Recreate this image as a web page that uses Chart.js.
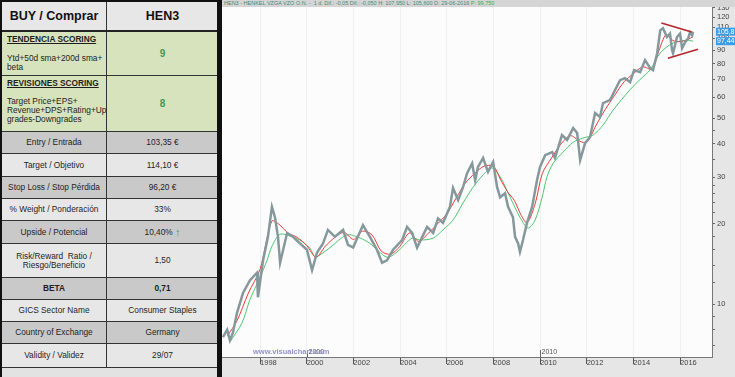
<!DOCTYPE html>
<html>
<head>
<meta charset="utf-8">
<script src="https://cdn.jsdelivr.net/npm/chart.js@4.4.1/dist/chart.umd.min.js"></script>
<style>
html, body { margin: 0; padding: 0; width: 735px; height: 377px; overflow: hidden; background: #e2e2e2;
  font-family: "Liberation Sans", Arial, sans-serif; }
#table { position: absolute; left: 0; top: 0; width: 218px; height: 377px; background: #e2e2e2;
  border-left: 2px solid #111; border-top: 2px solid #111; box-sizing: border-box; }
.row { position: absolute; left: 0; width: 216px; display: flex; box-sizing: border-box; border-bottom: 1px solid #333; }
.c1, .c2 { box-sizing: border-box; height: 100%; display: flex; align-items: center; justify-content: center;
  text-align: center; font-size: 8.3px; line-height: 9px; color: #1e1e1e; }
.c1 { width: 105px; border-right: 1px solid #333; }
.c2 { width: 111px; }
.dark { background: #c9c9c9; }
.light { background: #e7e7e7; }
.green { background: #d7e3bc; }
.txt { display: block; text-align: left; padding: 2px 0 0 5px; }
.ttl { font-weight: bold; text-decoration: underline; line-height: 10px; }
.score { color: #3c9a5c; font-weight: bold; font-size: 10px; }
.head { font-weight: bold; font-size: 12.5px; color: #111; }
#sep { position: absolute; left: 217px; top: 0; width: 5px; height: 377px; background: #111; }
#chartBox { position: absolute; left: 222px; top: 0; width: 513px; height: 377px; }
#hdr { position: absolute; left: 222px; top: 0; width: 513px; height: 7px; background: #d5d5d5;
  font-size: 5.5px; line-height: 7px; color: #3d8a78; white-space: nowrap; padding-left: 2px; box-sizing: border-box; }
#hdr b { font-weight: normal; color: #33b04a; }
#wm { position: absolute; left: 253px; top: 347px; font-size: 7.5px; font-weight: bold; color: #9393c9; }
</style>
</head>
<body>
<div id="table">
  <div class="row light" style="top:0;height:30px;border-bottom:2px solid #222">
    <div class="c1 head">BUY / Comprar</div><div class="c2 head">HEN3</div>
  </div>
  <div class="row green" style="top:30px;height:44px">
    <div class="c1 txt"><div class="ttl">TENDENCIA SCORING</div><div style="margin-top:9.5px">Ytd+50d sma+200d sma+<br>beta</div></div>
    <div class="c2 score">9</div>
  </div>
  <div class="row green" style="top:74px;height:56px">
    <div class="c1 txt"><div class="ttl">REVISIONES SCORING</div><div style="margin-top:8.5px">Target Price+EPS+<br>Revenue+DPS+Rating+Up<br>grades-Downgrades</div></div>
    <div class="c2 score">8</div>
  </div>
  <div class="row dark" style="top:130px;height:22px"><div class="c1">Entry / Entrada</div><div class="c2">103,35 €</div></div>
  <div class="row light" style="top:152px;height:23px"><div class="c1">Target / Objetivo</div><div class="c2">114,10 €</div></div>
  <div class="row dark" style="top:175px;height:22px"><div class="c1">Stop Loss / Stop Pérdida</div><div class="c2">96,20 €</div></div>
  <div class="row light" style="top:197px;height:22px"><div class="c1">% Weight / Ponderación</div><div class="c2">33%</div></div>
  <div class="row dark" style="top:219px;height:23px"><div class="c1">Upside / Potencial</div><div class="c2">10,40%&nbsp;<span style="color:#3f9c7c;font-size:11px">↑</span></div></div>
  <div class="row light" style="top:242px;height:34px"><div class="c1">Risk/Reward &nbsp;Ratio /<br>Riesgo/Beneficio</div><div class="c2">1,50</div></div>
  <div class="row dark" style="top:276px;height:22px"><div class="c1" style="font-weight:bold">BETA</div><div class="c2" style="font-weight:bold">0,71</div></div>
  <div class="row light" style="top:298px;height:22px"><div class="c1">GICS Sector Name</div><div class="c2">Consumer Staples</div></div>
  <div class="row dark" style="top:320px;height:22px"><div class="c1">Country of Exchange</div><div class="c2">Germany</div></div>
  <div class="row light" style="top:342px;height:24px"><div class="c1">Validity / Validez</div><div class="c2">29/07</div></div>
</div>
<div id="sep"></div>
<div id="chartBox"><canvas id="priceChart"></canvas></div>
<div id="hdr">HEN3 - HENKEL VZGA VZO O.N. - &nbsp;1 d. Dif.: -0,05 Dif.: -0,050 H: 107,950 L: 105,600 D: 29-06-2016 <b>P: 99,750</b></div>
<div id="wm">www.visualchart.com</div>

<script>
// --- DATA ---
const priceYears = [1996.41, 1996.59, 1996.71, 1996.84, 1997.01, 1997.27, 1997.57, 1997.87, 1997.91, 1998.13,
  1998.34, 1998.51, 1998.64, 1998.77, 1998.86, 1999.16, 1999.41, 1999.71, 2000.01, 2000.23,
  2000.44, 2000.70, 2000.91, 2001.21, 2001.56, 2001.77, 2001.99, 2002.41, 2002.71, 2003.01,
  2003.23, 2003.44, 2003.70, 2004.09, 2004.30, 2004.52, 2004.73, 2005.16, 2005.42, 2005.63,
  2005.84, 2006.14, 2006.27, 2006.49, 2006.70, 2006.87, 2007.09, 2007.22, 2007.34, 2007.56,
  2007.77, 2007.99, 2008.16, 2008.29, 2008.50, 2008.63, 2008.84, 2008.93, 2009.06, 2009.14,
  2009.27, 2009.44, 2009.66, 2009.87, 2010.00, 2010.22, 2010.52, 2010.64, 2010.94, 2011.16,
  2011.42, 2011.59, 2011.72, 2011.93, 2012.14, 2012.36, 2012.57, 2012.70, 2013.00, 2013.21,
  2013.43, 2013.64, 2013.86, 2014.03, 2014.29, 2014.50, 2014.72, 2014.84, 2015.02, 2015.15,
  2015.27, 2015.44, 2015.57, 2015.66, 2015.70, 2015.87, 2016.00, 2016.09, 2016.22, 2016.35,
  2016.43, 2016.52, 2016.56];
const priceClose = [7.5, 8.0, 7.3, 7.8, 9.25, 11.0, 12.3, 13.1, 10.6, 14.6,
  17.9, 23.2, 21.2, 17.9, 14.3, 18.5, 17.9, 16.9, 16.0, 13.4,
  15.6, 16.9, 19.0, 17.9, 19.0, 16.7, 16.3, 19.8, 17.9, 16.0,
  14.3, 14.6, 16.0, 17.4, 19.5, 18.5, 16.3, 19.5, 18.5, 21.0,
  20.2, 23.2, 27.3, 24.6, 27.5, 31.0, 33.8, 29.2, 32.8, 35.4,
  31.4, 34.2, 27.5, 25.2, 26.1, 23.2, 21.2, 17.9, 16.9, 15.7,
  17.4, 20.2, 23.2, 29.2, 32.8, 36.3, 37.3, 35.4, 43.2, 41.4,
  45.9, 44.0, 34.8, 40.3, 42.4, 52.3, 50.5, 57.0, 58.5, 63.7,
  69.5, 70.7, 68.3, 75.8, 74.5, 82.7, 77.1, 75.8, 87.8, 107,
  109, 101, 104, 90, 87.8, 101, 104, 91.7, 96.6, 100,
  105.3, 102.6, 105.8];

const redYears = [1996.6, 1997.0, 1997.5, 1998.0, 1998.5, 1998.8, 1999.2, 1999.6, 2000.0, 2000.4,
  2000.8, 2001.2, 2001.6, 2002.0, 2002.4, 2002.8, 2003.2, 2003.6, 2004.0, 2004.4,
  2004.8, 2005.2, 2005.6, 2006.0, 2006.4, 2006.8, 2007.2, 2007.6, 2008.0, 2008.3,
  2008.6, 2008.9, 2009.2, 2009.45, 2009.8, 2010.1, 2010.5, 2010.9, 2011.3, 2011.7,
  2012.0, 2012.4, 2012.8, 2013.2, 2013.6, 2014.0, 2014.4, 2014.8, 2015.1, 2015.4,
  2015.7, 2016.0, 2016.3, 2016.56];
const redValues = [7.6, 8.6, 11.0, 13.5, 20.5, 20.0, 18.5, 17.8, 16.6, 15.0,
  16.5, 17.8, 18.6, 17.5, 18.8, 18.2, 15.8, 15.4, 16.5, 18.5,
  17.2, 18.4, 20.0, 21.8, 25.0, 28.5, 31.0, 33.0, 33.0, 29.5,
  26.5, 24.5, 21.5, 20.2, 24.0, 31.0, 35.5, 40.0, 43.0, 41.0,
  40.5, 47.0, 54.0, 61.0, 68.5, 73.5, 78.0, 76.5, 90.0, 103.0,
  98.0, 97.0, 98.5, 101.5];

const greenYears = [1996.71, 1997.23, 1997.57, 1998.0, 1998.30, 1998.51, 1998.86, 1999.29, 1999.71, 2000.14,
  2000.36, 2000.57, 2001.0, 2001.73, 2002.29, 2002.71, 2003.44, 2003.87, 2004.52, 2004.86,
  2005.42, 2005.84, 2006.27, 2006.70, 2007.13, 2007.56, 2007.94, 2008.29, 2008.72, 2009.14,
  2009.49, 2009.79, 2010.09, 2010.30, 2010.56, 2010.99, 2011.42, 2011.84, 2012.27, 2012.70,
  2013.13, 2013.86, 2014.29, 2014.72, 2015.15, 2015.70, 2016.30, 2016.56];
const greenValues = [7.2, 8.5, 10.4, 12.6, 14.6, 16.5, 18.3, 18.0, 17.4, 16.2,
  15.0, 15.3, 16.3, 18.2, 17.7, 16.9, 15.0, 15.7, 17.7, 17.4,
  17.7, 19.0, 20.7, 24.0, 27.5, 30.6, 32.5, 30.1, 25.2, 21.2,
  19.3, 20.7, 25.2, 30.1, 33.8, 37.3, 40.6, 42.1, 43.2, 47.1,
  53.6, 64.0, 70.0, 76.0, 88.0, 95.8, 98.3, 97.44];

// triangle drawn on the last part of the chart
const upperTrendYears = [2015.2, 2016.5];
const upperTrendValues = [114, 105.5];
const lowerTrendYears = [2015.48, 2016.77];
const lowerTrendValues = [84.1, 90.9];

const xTickYears = [1998, 2000, 2002, 2004, 2006, 2008, 2010, 2012, 2014, 2016];
const decadeYears = [2000, 2010];
const yTickValues = [7, 8, 9, 10, 12, 14, 16, 18, 20, 22, 24, 26, 28, 30, 35, 40, 45, 50, 60, 70, 80, 90, 100, 110, 120, 130];
const yTickLabels = [10, 20, 30, 40, 50, 60, 70, 80, 90, 100, 110, 120, 130];
const tagValues = [105.8, 97.44];
const tagLabels = ['105,8', '97,44'];

function toPoints(xs, ys) {
  return xs.map((x, i) => ({ x: x, y: ys[i] }));
}

// --- BACKGROUNDS, DECADE MARKS AND PRICE TAGS ---
const chartDecor = {
  id: 'chartDecor',
  beforeDraw(chart) {
    const { ctx, chartArea: a, width, height } = chart;
    ctx.save();
    ctx.fillStyle = '#e6e6e6';
    ctx.fillRect(0, 0, width, height);
    ctx.fillStyle = '#fcfcfc';
    ctx.fillRect(a.left, a.top, a.right - a.left, a.bottom - a.top);
    ctx.restore();
  },
  afterDraw(chart) {
    const { ctx, chartArea: a } = chart;
    const x = chart.scales.x, y = chart.scales.y;
    ctx.save();
    ctx.font = '7px "Liberation Sans"';
    ctx.strokeStyle = '#666';
    ctx.fillStyle = '#555';
    ctx.lineWidth = 1;
    ctx.textBaseline = 'bottom';
    decadeYears.forEach(yr => {
      const px = Math.round(x.getPixelForValue(yr)) + 0.5;
      ctx.beginPath();
      ctx.moveTo(px, a.bottom - 7);
      ctx.lineTo(px, a.bottom);
      ctx.stroke();
      ctx.fillText(String(yr), px + 1, a.bottom - 1);
    });
    ctx.textBaseline = 'middle';
    tagValues.forEach((v, i) => {
      const py = y.getPixelForValue(v);
      ctx.fillStyle = '#3d9be4';
      ctx.fillRect(a.right + 4, py - 4, 19, 8);
      ctx.fillStyle = '#fff';
      ctx.fillText(tagLabels[i], a.right + 5, py);
    });
    ctx.restore();
  }
};

Chart.defaults.font.family = '"Liberation Sans", Arial, sans-serif';

new Chart(document.getElementById('priceChart'), {
  type: 'line',
  data: {
    datasets: [
      { data: toPoints(priceYears, priceClose), borderColor: '#85989c', borderWidth: 2.5, pointRadius: 0, order: 0 },
      { data: toPoints(redYears, redValues), borderColor: '#ee3a3a', borderWidth: 1, pointRadius: 0, tension: 0.3, order: 2 },
      { data: toPoints(greenYears, greenValues), borderColor: '#4cc870', borderWidth: 1, pointRadius: 0, tension: 0.3, order: 3 },
      { data: toPoints(upperTrendYears, upperTrendValues), borderColor: '#b3262b', borderWidth: 1.5, pointRadius: 0, order: -1 },
      { data: toPoints(lowerTrendYears, lowerTrendValues), borderColor: '#b3262b', borderWidth: 1.5, pointRadius: 0, order: -1 }
    ]
  },
  options: {
    responsive: true,
    maintainAspectRatio: false,
    animation: false,
    layout: { padding: { top: 7, left: 0, right: 0, bottom: 0 } },
    plugins: { legend: { display: false }, tooltip: { enabled: false } },
    scales: {
      x: {
        type: 'linear',
        min: 1996.37,
        max: 2017.37,
        afterBuildTicks: scale => { scale.ticks = xTickYears.map(v => ({ value: v })); },
        afterFit: scale => { scale.height = 20; scale.paddingLeft = 0; scale.paddingRight = 0; },
        ticks: { callback: v => String(v), align: 'start', maxRotation: 0, autoSkip: false,
          font: { size: 7.5 }, color: '#444', padding: -6 },
        grid: { color: '#f0f0f0', tickColor: '#555', tickLength: 7 },
        border: { color: '#777' }
      },
      y: {
        type: 'logarithmic',
        position: 'right',
        min: 6.32,
        max: 131,
        afterBuildTicks: scale => { scale.ticks = yTickValues.map(v => ({ value: v })); },
        afterFit: scale => { scale.width = 23; scale.paddingTop = 0; scale.paddingBottom = 0; },
        ticks: { callback: v => yTickLabels.includes(v) ? String(v) : '', autoSkip: false,
          font: { size: 7.5 }, color: '#444', padding: 2 },
        grid: { drawOnChartArea: false, tickColor: '#666', tickLength: 3 },
        border: { color: '#777' }
      }
    }
  },
  plugins: [chartDecor]
});
</script>
</body>
</html>
